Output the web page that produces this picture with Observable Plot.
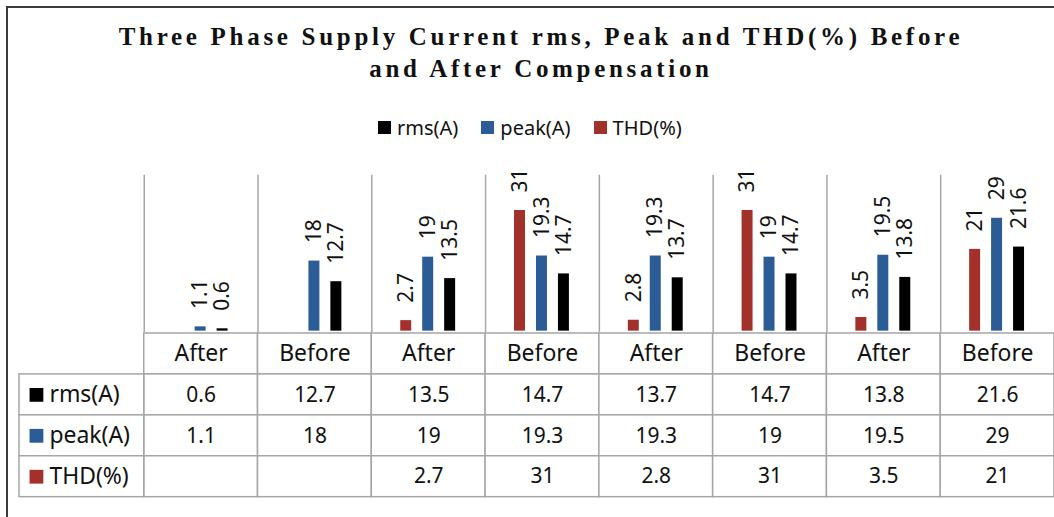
<!DOCTYPE html>
<html><head><meta charset="utf-8">
<script src="https://cdn.jsdelivr.net/npm/d3@7"></script>
<script src="https://cdn.jsdelivr.net/npm/@observablehq/plot@0.6"></script>
<style>
body{margin:0;width:1054px;height:517px;overflow:hidden;background:#fff;position:relative;font-family:"Noto Sans",sans-serif;color:#111;}
#frame{position:absolute;left:6px;top:6px;width:1100px;height:600px;border-left:2px solid #3c3c3c;border-top:2px solid #3c3c3c;}
#title{position:absolute;left:14px;width:1054px;top:21px;text-align:center;font-family:"Liberation Serif",serif;font-weight:bold;font-size:25px;letter-spacing:3.7px;line-height:32px;color:#111;}
#legend{position:absolute;top:114px;left:378px;height:26px;display:flex;align-items:center;font-size:20px;}
#legend .item{display:flex;align-items:center;margin-right:23px;}
#legend .sw{width:13px;height:13px;margin-right:6px;display:inline-block;}
#bars{position:absolute;left:0;top:145px;}
#table{position:absolute;left:0;top:330px;}
svg{overflow:visible;}
</style>
</head><body>
<div id="frame"></div>
<div id="title">Three Phase Supply Current rms, Peak and THD(%) Before<br>and After Compensation</div>
<div id="legend"></div>
<div id="bars"></div>
<div id="table"></div>
<script>
// ---- data ----
const categories = ["After","Before","After","Before","After","Before","After","Before"];
const rms  = [0.6, 12.7, 13.5, 14.7, 13.7, 14.7, 13.8, 21.6];
const peak = [1.1, 18, 19, 19.3, 19.3, 19, 19.5, 29];
const thd  = [null, null, 2.7, 31, 2.8, 31, 3.5, 21];
const seriesNames = ["rms(A)", "peak(A)", "THD(%)"];
const seriesColors = ["#000000", "#2b5c95", "#a2302b"];
const barOrder = ["THD(%)", "peak(A)", "rms(A)"];

const valuesBySeries = {"rms(A)": rms, "peak(A)": peak, "THD(%)": thd};
const colorOf = s => seriesColors[seriesNames.indexOf(s)];

// ---- legend ----
const leg = document.getElementById("legend");
seriesNames.forEach(s => {
  const it = document.createElement("span"); it.className = "item";
  const sw = document.createElement("span"); sw.className = "sw"; sw.style.background = colorOf(s);
  it.appendChild(sw); it.appendChild(document.createTextNode(s));
  leg.appendChild(it);
});

// ---- bars ----
const barData = [];
categories.forEach((c, i) => {
  barOrder.forEach(s => {
    const v = valuesBySeries[s][i];
    if (v != null) barData.push({col: i, s, v});
  });
});

const bars = Plot.plot({
  width: 1056, height: 186,
  marginTop: 30, marginBottom: 0, marginLeft: 144, marginRight: 0,
  style: {fontFamily: "Noto Sans", background: "transparent", color: "#111"},
  fx: {domain: d3.range(categories.length), padding: 0, axis: null},
  x: {domain: barOrder, paddingInner: 0.48, paddingOuter: 1.22, axis: null},
  y: {domain: [0, 40], axis: null},
  color: {domain: seriesNames, range: seriesColors},
  marks: [
    Plot.frame({anchor: "left", stroke: "#a6a6a6", strokeWidth: 1.5}),
    Plot.barY(barData, {fx: "col", x: "s", y: "v", fill: "s"}),
    Plot.text(barData, {fx: "col", x: "s", y: "v", text: d => String(d.v), rotate: -90,
      textAnchor: "start", dy: -18, fontSize: 21, fill: "#111"})
  ]
});
document.getElementById("bars").appendChild(bars);

// ---- data table ----
const rowKeys = ["cat", ...seriesNames];
const hdrStart = -125 / 114;
const cells = [];
categories.forEach((c, i) => rowKeys.forEach(r => cells.push({col: i, row: r})));
const tableVals = [];
seriesNames.forEach(s => valuesBySeries[s].forEach((v, i) => { if (v != null) tableVals.push({col: i, row: s, v}); }));

const table = Plot.plot({
  width: 1056, height: 170,
  marginTop: 1, marginBottom: 2, marginLeft: 19, marginRight: 0,
  style: {fontFamily: "Noto Sans", background: "transparent", color: "#111"},
  x: {type: "linear", domain: [hdrStart, categories.length], axis: null},
  y: {type: "band", domain: rowKeys, padding: 0, axis: null},
  color: {domain: seriesNames, range: seriesColors},
  marks: [
    Plot.barX(cells, {x1: "col", x2: d => d.col + 1, y: "row", fill: "white", stroke: "#a6a6a6", strokeWidth: 1.5}),
    Plot.barX(seriesNames, {x1: () => hdrStart, x2: () => 0, y: d => d, fill: "white", stroke: "#a6a6a6", strokeWidth: 1.5}),
    Plot.text(categories, {x: (d, i) => i + 0.5, y: () => "cat", text: d => d, fontSize: 23, fill: "#111"}),
    Plot.text(tableVals, {x: d => d.col + 0.5, y: "row", text: d => String(d.v), fontSize: 21, fill: "#111"}),
    Plot.dot(seriesNames, {y: d => d, frameAnchor: "left", dx: 17, symbol: "square", r: 7.8, fill: d => d, stroke: null}),
    Plot.text(seriesNames, {y: d => d, frameAnchor: "left", dx: 30, textAnchor: "start", text: d => d, fontSize: 23, fill: "#111"})
  ]
});
document.getElementById("table").appendChild(table);
</script>
</body></html>
